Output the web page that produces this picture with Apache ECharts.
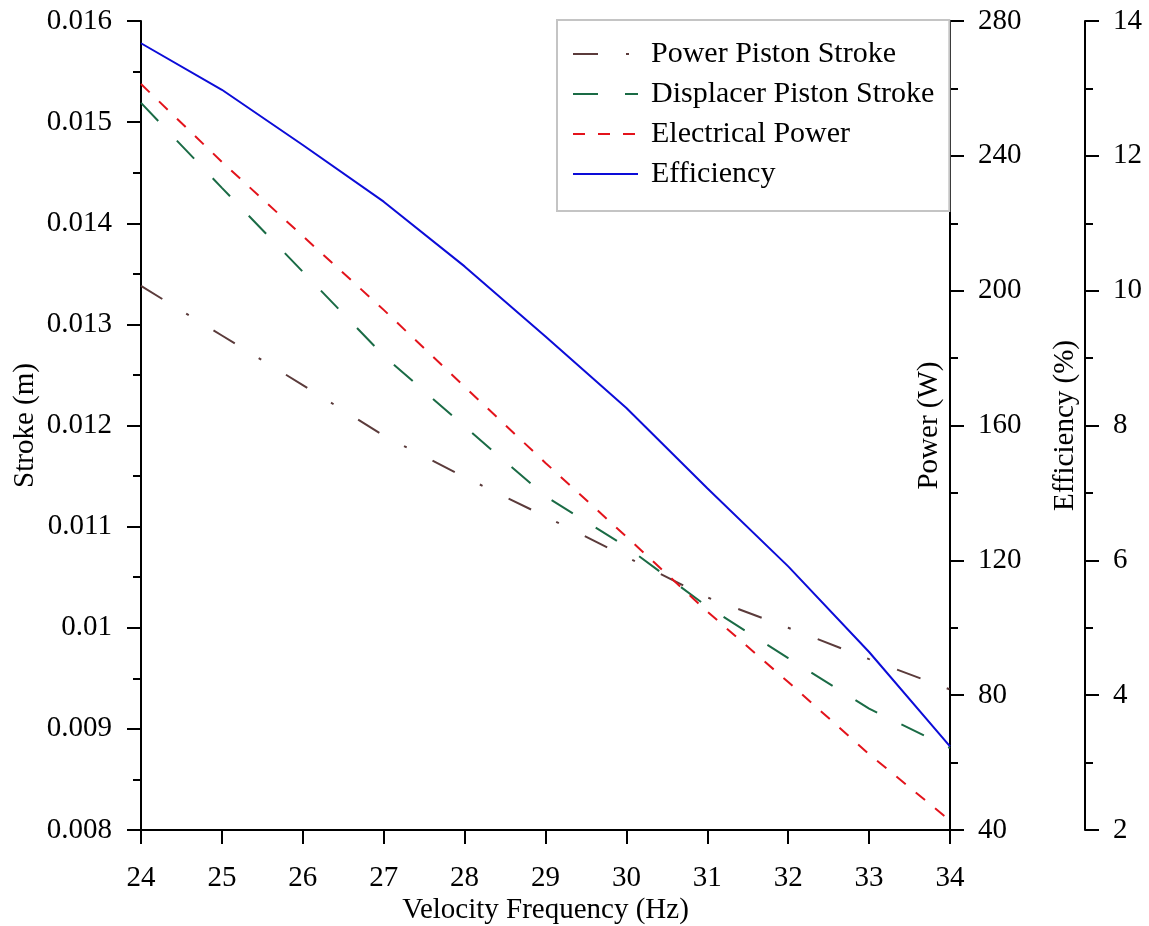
<!DOCTYPE html>
<html>
<head>
<meta charset="utf-8">
<script src="https://cdn.jsdelivr.net/npm/echarts@6/dist/echarts.min.js"></script>
<style>
html,body{margin:0;padding:0;background:#fff;}
#chart{width:1149px;height:926px;}
</style>
</head>
<body>
<div id="chart"></div>
<script>
// ---- data ----
const frequency = [24, 25, 26, 27, 28, 29, 30, 31, 32, 33, 34];
const powerPistonStroke = [0.01338, 0.01289, 0.01240, 0.01190, 0.01149, 0.01110, 0.01070, 0.01030, 0.01000, 0.00969, 0.00939];
const displacerPistonStroke = [0.01519, 0.01435, 0.01352, 0.01269, 0.01199, 0.01130, 0.01080, 0.01021, 0.00970, 0.00920, 0.00881];
const electricalPower = [261.3, 238.2, 216.2, 194.3, 171.5, 148.9, 127.0, 104.8, 83.9, 62.5, 42.8];
const efficiency = [13.67, 12.98, 12.16, 11.32, 10.36, 9.32, 8.26, 7.07, 5.91, 4.64, 3.24];

const seriesNames = ['Power Piston Stroke', 'Displacer Piston Stroke', 'Electrical Power', 'Efficiency'];
const xRange = {min: 24, max: 34, interval: 1};
const strokeRange = {min: 0.008, max: 0.016, interval: 0.001};
const powerRange = {min: 40, max: 280, interval: 40};
const effRange = {min: 2, max: 14, interval: 2};

const FONT = "'Liberation Serif','Times New Roman',serif";
const FS = 29;

function pairs(ys){ return frequency.map((x,i)=>[x, ys[i]]); }

function yAxisBase(r){
  return {
    type: 'value', min: r.min, max: r.max, interval: r.interval,
    splitLine: {show:false},
    axisLine: {show:true, onZero:false, lineStyle:{color:'#000', width:2}},
    axisTick: {show:true, inside:false, length:14, lineStyle:{color:'#000', width:2}},
    minorTick: {show:true, splitNumber:2, length:8, lineStyle:{color:'#000', width:2}},
    axisLabel: {color:'#000', fontFamily:FONT, fontSize:FS, margin:28},
    nameLocation: 'middle', nameRotate: 90, nameMoveOverlap: false,
    nameTextStyle: {color:'#000', fontFamily:FONT, fontSize:FS, verticalAlign:'middle', align:'center'}
  };
}

const chart = echarts.init(document.getElementById('chart'), null, {renderer:'canvas'});
const option = {
  animation: false,
  backgroundColor: '#fff',
  grid: {left:141, right:199, top:21, bottom:96, containLabel:false, outerBoundsMode:'none'},
  legend: {
    data: seriesNames,
    orient: 'vertical',
    left: 557, top: 20,
    padding: [19, 15, 22, 15],
    itemWidth: 65, itemHeight: 14, itemGap: 10,
    backgroundColor: '#fff',
    borderColor: '#c4c4c4', borderWidth: 2, borderRadius: 0,
    itemStyle: {opacity: 0, borderWidth: 0},
    textStyle: {color:'#000', fontFamily:FONT, fontSize:30, lineHeight:29, padding:[0,0,0,8]}
  },
  xAxis: {
    type: 'value', min: xRange.min, max: xRange.max, interval: xRange.interval,
    splitLine: {show:false},
    axisLine: {show:true, onZero:false, lineStyle:{color:'#000', width:2}},
    axisTick: {show:true, inside:false, length:14, lineStyle:{color:'#000', width:2}},
    axisLabel: {color:'#000', fontFamily:FONT, fontSize:FS, margin:34},
    name: 'Velocity Frequency (Hz)', nameLocation: 'middle', nameGap: 80, nameMoveOverlap: false,
    nameTextStyle: {color:'#000', fontFamily:FONT, fontSize:FS, verticalAlign:'middle'}
  },
  yAxis: [
    Object.assign(yAxisBase(strokeRange), {
      position: 'left', name: 'Stroke (m)', nameGap: 116,
      axisLabel: {color:'#000', fontFamily:FONT, fontSize:FS, margin:29,
        formatter: v => String(+v.toFixed(3))}
    }),
    Object.assign(yAxisBase(powerRange), {
      position: 'right', name: 'Power (W)', nameGap: -21
    }),
    Object.assign(yAxisBase(effRange), {
      position: 'right', offset: 135, name: 'Efficiency (%)', nameGap: -20
    })
  ],
  series: [
    {name: seriesNames[0], type:'line', yAxisIndex:0, data: pairs(powerPistonStroke), symbol:'none',
     color:'#5b3b3b', lineStyle:{color:'#5b3b3b', width:2, type:[25,28,3,29]}},
    {name: seriesNames[1], type:'line', yAxisIndex:0, data: pairs(displacerPistonStroke), symbol:'none',
     color:'#1a6b45', lineStyle:{color:'#1a6b45', width:2, type:[25,27]}},
    {name: seriesNames[2], type:'line', yAxisIndex:1, data: pairs(electricalPower), symbol:'none',
     color:'#e3131b', lineStyle:{color:'#e3131b', width:2, type:[12,13]}},
    {name: seriesNames[3], type:'line', yAxisIndex:2, data: pairs(efficiency), symbol:'none',
     color:'#0c0cd8', lineStyle:{color:'#0c0cd8', width:2, type:'solid'}}
  ]
};
chart.setOption(option);
</script>
</body>
</html>
